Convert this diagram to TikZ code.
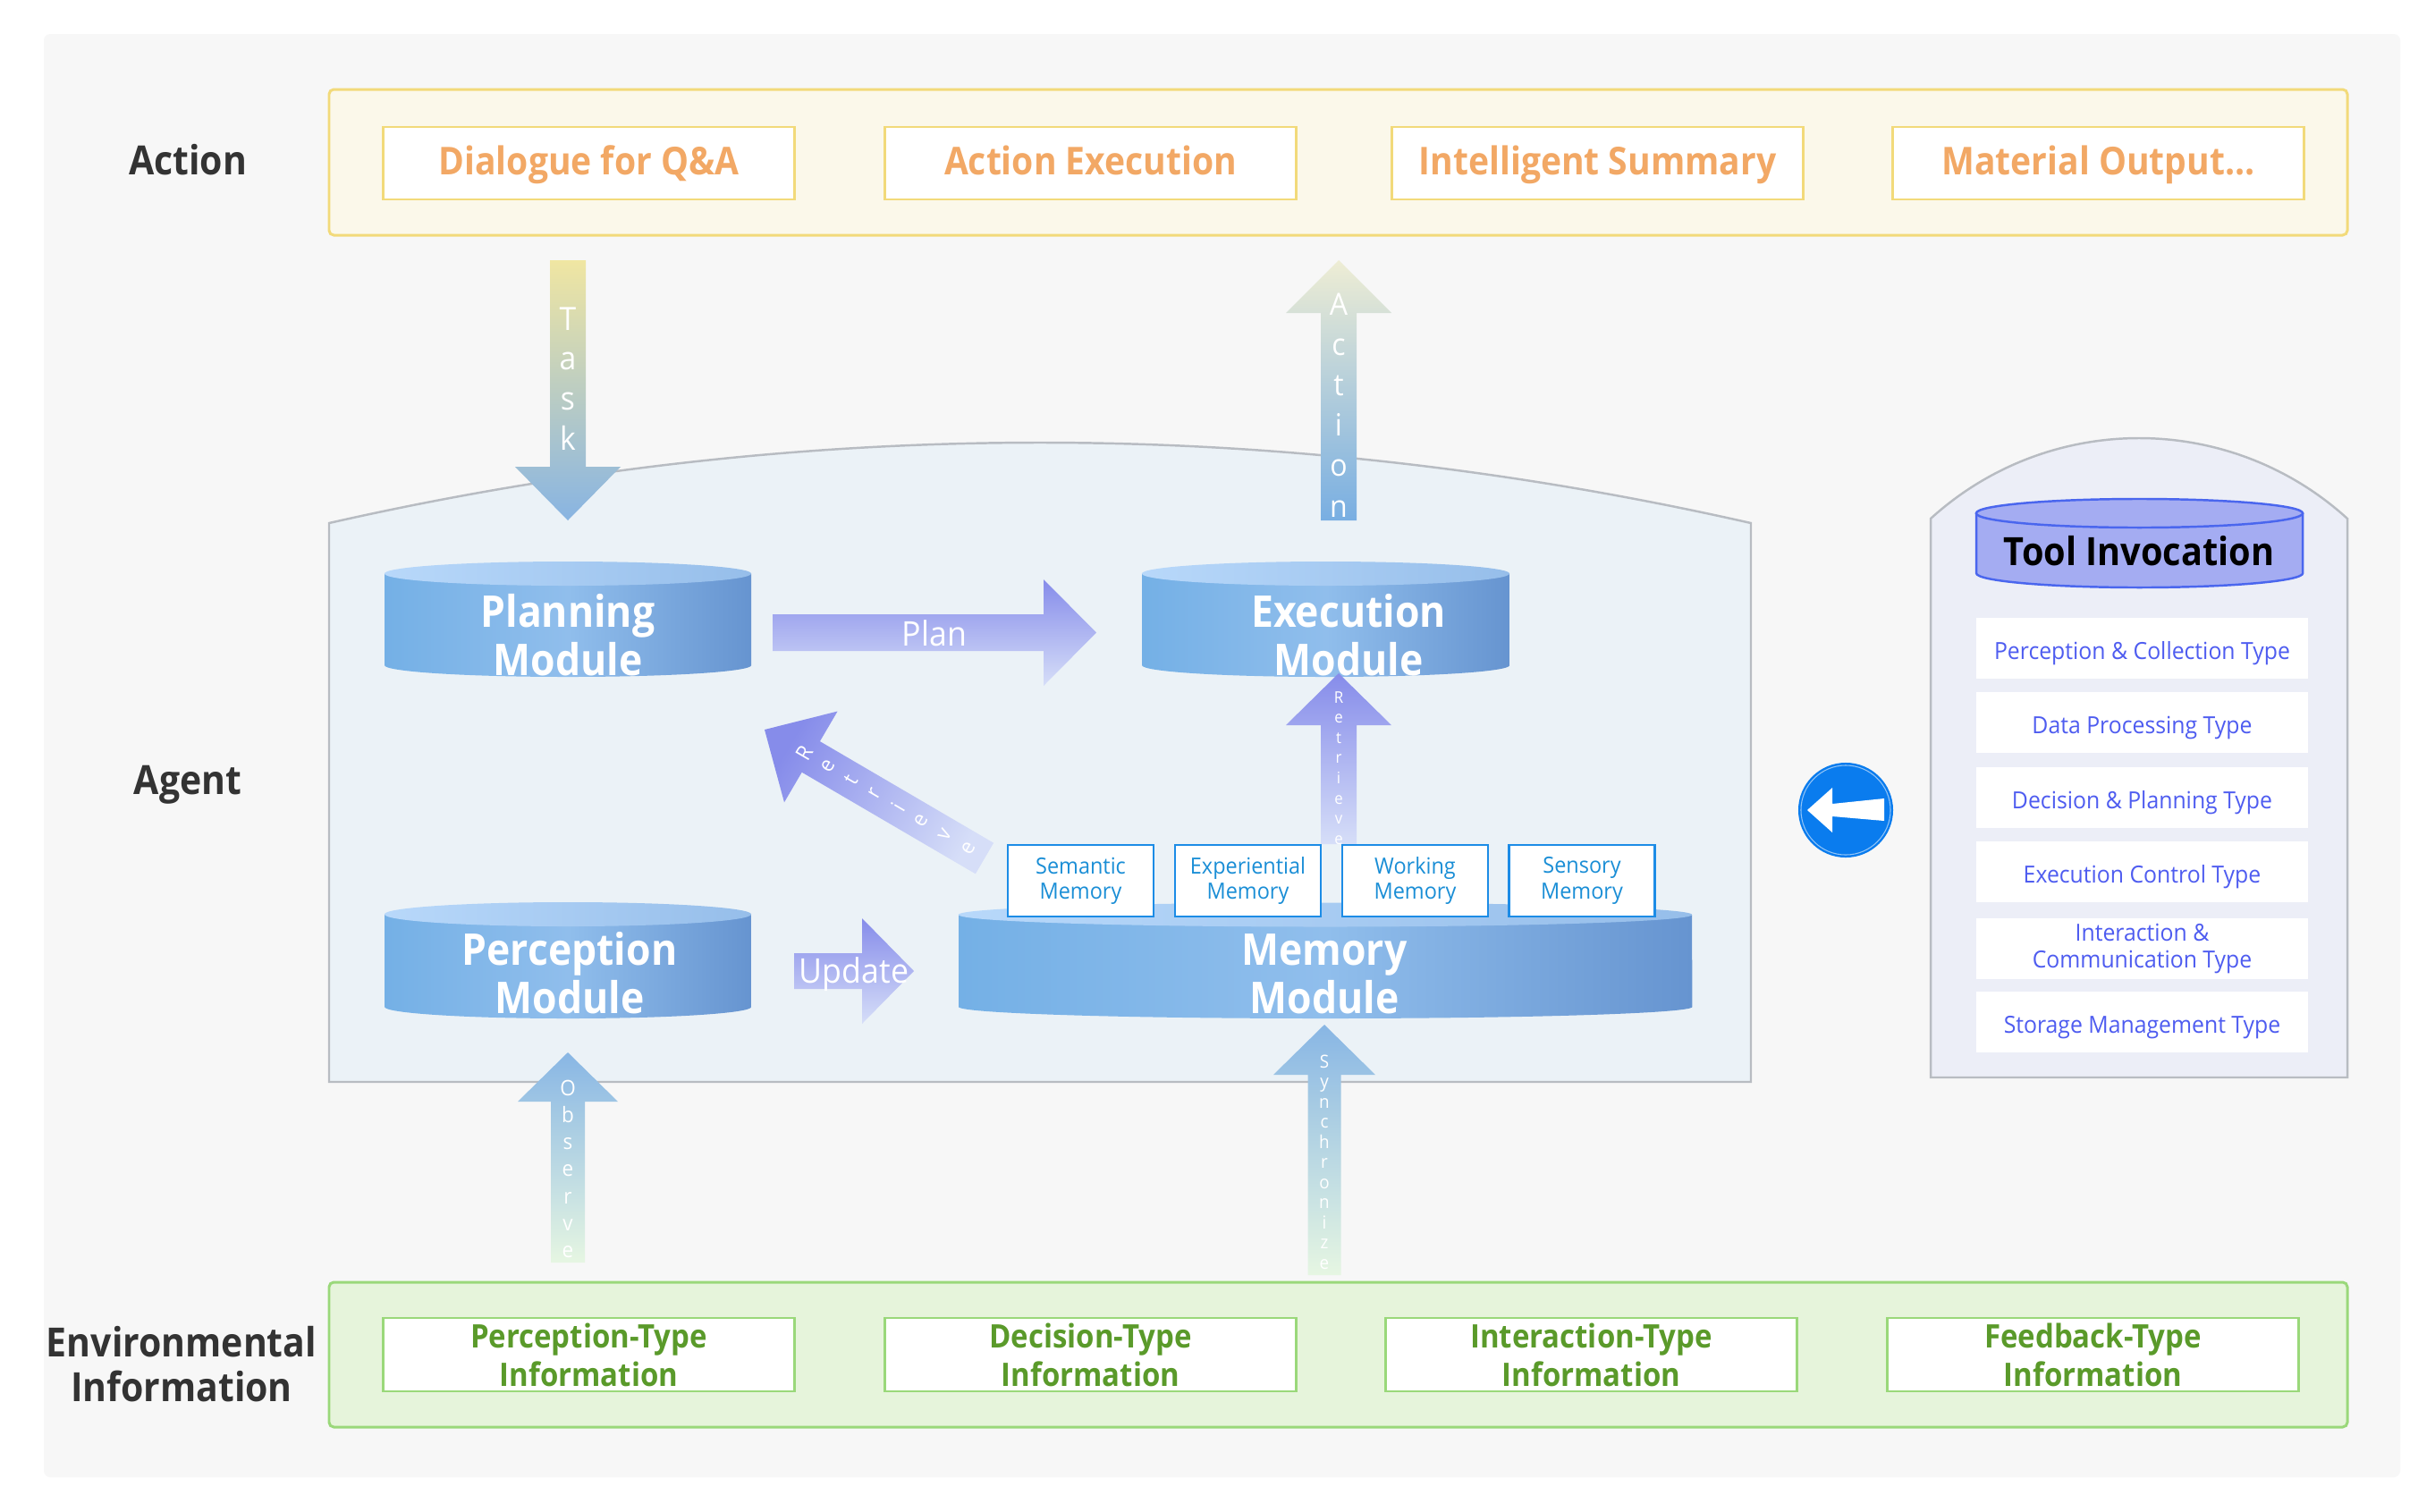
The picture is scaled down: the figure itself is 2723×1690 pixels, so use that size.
\documentclass[tikz,border=0pt]{standalone}
\usepackage{fontspec}
\setmainfont{Open Sans}[FakeStretch=0.94,BoldFeatures={FakeStretch=0.91}]
\definecolor{bggray}{HTML}{F7F7F7}
\definecolor{actfill}{HTML}{FBF8EA}
\definecolor{actborder}{HTML}{F2DA7A}
\definecolor{acttext}{HTML}{F2A865}
\definecolor{envfill}{HTML}{E6F4DB}
\definecolor{envborder}{HTML}{9AD87A}
\definecolor{envtext}{HTML}{5A9A2A}
\definecolor{agentfill}{HTML}{EBF2F7}
\definecolor{contborder}{HTML}{B8BCC2}
\definecolor{toolfill}{HTML}{ECEEF7}
\definecolor{labeltext}{HTML}{333333}
\definecolor{memborder}{HTML}{1C8CE6}
\definecolor{memtext}{HTML}{1A8ED6}
\definecolor{tooltext}{HTML}{4E5CF0}
\definecolor{cylL}{HTML}{74B0E6}
\definecolor{cylM}{HTML}{90BEEC}
\definecolor{cylR}{HTML}{6694D0}
\definecolor{cyltopL}{HTML}{B8D8FA}
\definecolor{cyltopR}{HTML}{96BEEA}
\definecolor{toolcyl}{HTML}{A4ACF2}
\definecolor{toolcylborder}{HTML}{4A66EE}
\definecolor{iconblue}{HTML}{0A7CEE}
\definecolor{taskTop}{HTML}{F0E6A2}
\definecolor{taskBot}{HTML}{88B4E2}
\definecolor{actTop}{HTML}{EEEDD4}
\definecolor{actBot}{HTML}{78AEE2}
\definecolor{obsTop}{HTML}{88B6E4}
\definecolor{obsBot}{HTML}{E6F6E2}
\definecolor{purpTop}{HTML}{868CEA}
\definecolor{purpBot}{HTML}{D6DEF8}
% vertical block arrow: cx, y tail, y head base, y tip, half shaft, half head, top colour, bottom colour
\newcommand{\vblock}[8]{%
  \shade[top color=#7,bottom color=#8] (#1-#5,#2) -- (#1-#5,#3) -- (#1-#6,#3) -- (#1,#4) -- (#1+#6,#3) -- (#1+#5,#3) -- (#1+#5,#2) -- cycle;}
% horizontal block arrow: cy, x tail, x head base, x tip, half shaft, half head, top colour, bottom colour
\newcommand{\hblock}[8]{%
  \shade[top color=#7,bottom color=#8] (#2,#1-#5) -- (#3,#1-#5) -- (#3,#1-#6) -- (#4,#1) -- (#3,#1+#6) -- (#3,#1+#5) -- (#2,#1+#5) -- cycle;}
% blue cylinder: x1, x2, y top-ellipse centre, y side bottom
\newcommand{\bluecyl}[4]{%
  \pgfmathsetmacro\cylRad{(#2-#1)/200}
  \shade[left color=cylL,right color=cylR,middle color=cylM] (#1,#3) -- (#1,#4) arc[start angle=180,end angle=360,x radius=\cylRad cm,y radius=0.13cm] -- (#2,#3) -- cycle;
  \shade[left color=cyltopL,right color=cyltopR] ({(#1+#2)/2},#3) ellipse[x radius=\cylRad cm,y radius=0.135cm];}
\begin{document}
\begin{tikzpicture}[x=0.01cm,y=-0.01cm,
  oneline/.style={text height=0.714em,text depth=0pt},
  rowlabel/.style={font=\bfseries\fontsize{12.8}{14.2}\selectfont,text=labeltext,align=center,inner sep=0},
  actitem/.style={draw=actborder,fill=white,line width=0.8pt,minimum width=4.59cm,minimum height=0.81cm,inner sep=0,
    font=\bfseries\fontsize{12.2}{14}\selectfont,text=acttext,oneline},
  envitem/.style={draw=envborder,fill=white,line width=0.8pt,minimum width=4.59cm,minimum height=0.82cm,inner sep=0,
    font=\bfseries\fontsize{10.3}{12.2}\selectfont,text=envtext,align=center},
  cyltext/.style={font=\bfseries\fontsize{13.9}{15.4}\selectfont,text=white,align=center,inner sep=0},
  memitem/.style={draw=memborder,fill=white,line width=0.7pt,minimum width=1.63cm,minimum height=0.8cm,inner sep=0,
    font=\fontsize{7.1}{8}\selectfont,text=memtext,align=center},
  toolitem/.style={fill=white,minimum width=3.71cm,minimum height=0.68cm,inner sep=0,
    font=\fontsize{7.5}{8.4}\selectfont,text=tooltext,align=center},
  arrowtext/.style={font=\fontsize{10.8}{12}\selectfont,text=white,inner sep=0,oneline},
  vlet/.style={anchor=base,text=white,inner sep=0}]
\useasboundingbox (0,0) rectangle (2723,1690);
\fill[white] (0,0) rectangle (2723,1690);
\fill[bggray,rounded corners=2pt] (49,38) rectangle (2684,1652);

% panels
\draw[fill=actfill,draw=actborder,line width=0.85pt,rounded corners=1.5pt] (368,100) rectangle (2625,263);
\draw[fill=envfill,draw=envborder,line width=0.85pt,rounded corners=1.5pt] (368,1434) rectangle (2625,1596);

% row labels
\node[rowlabel,oneline] (lblaction) at (210,183) {Action};
\node[rowlabel,oneline] (lblagent) at (210,876) {Agent};
\node[rowlabel] (lblenv) at (203,1526) {Environmental\\Information};

% action items
\node[actitem] (act1) at (658.5,182.5) {Dialogue for Q\&A};
\node[actitem] (act2) at (1219.5,182.5) {Action Execution};
\node[actitem] (act3) at (1786.5,182.5) {Intelligent Summary};
\node[actitem] (act4) at (2346.5,182.5) {Material Output...};

% environment items
\node[envitem] (env1) at (658.5,1515) {Perception-Type\\Information};
\node[envitem] (env2) at (1219.5,1515) {Decision-Type\\Information};
\node[envitem] (env3) at (1779.5,1515) {Interaction-Type\\Information};
\node[envitem] (env4) at (2340.5,1515) {Feedback-Type\\Information};

% agent container
\draw[fill=agentfill,draw=contborder,line width=0.7pt] (368,1210) -- (368,585) .. controls (898,465) and (1428,465) .. (1958,585) -- (1958,1210) -- cycle;
% tool container
\draw[fill=toolfill,draw=contborder,line width=0.7pt] (2159,1205) -- (2159,580) .. controls (2291,460) and (2493,460) .. (2625,580) -- (2625,1205) -- cycle;

% cylinders
\bluecyl{430}{840}{641.5}{744}
\bluecyl{1277}{1688}{641.5}{744}
\bluecyl{430}{840}{1022.5}{1126}
\bluecyl{1072}{1892}{1023}{1126}

\node[cyltext] (plan) at (635,710) {Planning\\Module};
\node[cyltext] (exec) at (1508,710) {Execution\\Module};
\node[cyltext] (perc) at (637,1088) {Perception\\Module};
\node[cyltext] (mem) at (1481,1089) {Memory\\Module};

% tool cylinder
\draw[fill=toolcyl,draw=toolcylborder,line width=0.7pt] (2210,574) -- (2210,641) arc[start angle=180,end angle=360,x radius=1.825cm,y radius=0.16cm] -- (2575,574);
\draw[fill=toolcyl,draw=toolcylborder,line width=0.7pt] (2392.5,574) ellipse[x radius=1.825cm,y radius=0.16cm];
\node[font=\bfseries\fontsize{12.4}{14}\selectfont,text=black,inner sep=0,oneline] (toolinv) at (2392,620) {Tool Invocation};

% tool items
\node[toolitem,oneline] (tool1) at (2395.5,725) {Perception \& Collection Type};
\node[toolitem,oneline] (tool2) at (2395.5,808) {Data Processing Type};
\node[toolitem,oneline] (tool3) at (2395.5,892) {Decision \& Planning Type};
\node[toolitem,oneline] (tool4) at (2395.5,975) {Execution Control Type};
\node[toolitem] (tool5) at (2395.5,1061) {Interaction \&\\Communication Type};
\node[toolitem,oneline] (tool6) at (2395.5,1143) {Storage Management Type};

% icon
\fill[iconblue] (2064,906) circle[radius=0.53cm];
\draw[white!55!iconblue,line width=0.3pt] (2064,906) circle[radius=0.5cm];
\fill[white] (2021,906) -- (2049,881) -- (2049,899) -- (2107,893) -- (2107,918) -- (2049,913) -- (2049,931) -- cycle;

% block arrows
\vblock{635}{291}{522}{582}{20}{59}{taskTop}{taskBot}
\vblock{1497}{582}{350}{291}{20}{59}{actTop}{actBot}
\vblock{1497}{944}{811}{753}{20}{59}{purpTop}{purpBot}
\vblock{635}{1412}{1232}{1177}{19}{56}{obsTop}{obsBot}
\vblock{1481}{1426}{1202}{1146}{18.5}{57}{obsTop}{obsBot}
\hblock{707.5}{864}{1167}{1226}{20.5}{59.5}{purpTop}{purpBot}
\hblock{1086}{888}{964}{1022}{20}{59}{purpTop}{purpBot}
\shade[top color=purpTop,bottom color=purpBot,shading angle=59.7]
  (1111.1,942.7) -- (916.9,829.1) -- (936.6,795.5) -- (855,816) -- (877.0,897.3) -- (896.7,863.7) -- (1090.9,977.3) -- cycle;

% memory sub-boxes
\node[memitem] (sem) at (1208.5,985) {Semantic\\Memory};
\node[memitem] (exp) at (1395.5,985) {Experiential\\Memory};
\node[memitem] (work) at (1582.5,985) {Working\\Memory};
\node[memitem] (sens) at (1769,985) {Sensory\\Memory};

% arrow texts
\node[arrowtext] (plantxt) at (1045,710) {Plan};
\node[arrowtext] (updtxt) at (955,1087) {Update};
\foreach \l [count=\i from 0] in {T,a,s,k}
  \node[vlet,font=\fontsize{10.2}{12}\selectfont] (task\i) at (635,{369+44.7*\i}) {\l};
\foreach \l [count=\i from 0] in {A,c,t,i,o,n}
  \node[vlet,font=\fontsize{9.7}{11}\selectfont] (actl\i) at (1497,{352+45.2*\i}) {\l};
\foreach \l [count=\i from 0] in {R,e,t,r,i,e,v,e}
  \node[vlet,font=\fontsize{5.1}{6}\selectfont] (retv\i) at (1497,{786+22.6*\i}) {\l};
\foreach \l [count=\i from 0] in {O,b,s,e,r,v,e}
  \node[vlet,font=\fontsize{6.8}{8}\selectfont] (obs\i) at (635,{1225+30.3*\i}) {\l};
\foreach \l [count=\i from 0] in {S,y,n,c,h,r,o,n,i,z,e}
  \node[vlet,font=\fontsize{5.7}{7}\selectfont] (syn\i) at (1481,{1194+22.5*\i}) {\l};
\foreach \l [count=\i from 0] in {R,e,t,r,i,e,v,e}
  \node[text=white,inner sep=0,rotate=59.7,font=\fontsize{6.8}{8}\selectfont] (retd\i) at ({899.5+26.2*\i},{841.7+15.3*\i}) {\l};
\end{tikzpicture}
\end{document}
